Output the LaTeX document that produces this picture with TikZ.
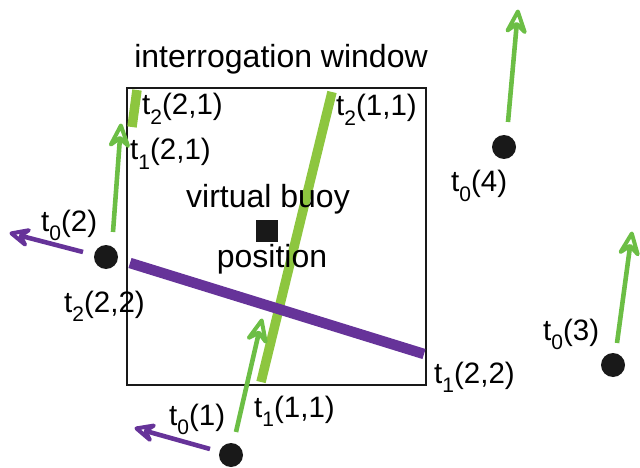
\documentclass[tikz,border=0pt]{standalone}
\usepackage{fontspec}
\setmainfont{Liberation Sans}
\usetikzlibrary{calc}
\definecolor{barg}{HTML}{8DC63F}
\definecolor{arrg}{HTML}{6CBE45}
\definecolor{purp}{HTML}{663399}
\newcommand{\tl}[2]{t\raisebox{-0.32em}{\fontsize{21}{21}\selectfont #1}#2}
% open stealth-like head: start, tip, colour, head length, inset, angle
\newcommand{\harrow}[6]{%
  \draw[#3,line width=4.6pt] (#1) -- ($(#2)!#5!(#1)$);
  \draw[#3,line width=4pt,line join=round,line cap=round]
    ($(#2)!1.5pt!(#1)$) -- ($(#2)!#4!-#6:(#1)$) -- ($(#2)!#5!(#1)$)
    -- ($(#2)!#4!#6:(#1)$) -- cycle;}
\tikzset{
  lbl/.style={anchor=base west,inner sep=0pt,font=\fontsize{29.5}{29.5}\selectfont},
  big/.style={inner sep=0pt,font=\fontsize{32}{32}\selectfont},
  dot/.style={circle,fill=black!90,inner sep=0pt,minimum size=24pt},
  gbar/.style={draw=barg,line width=9.5pt},
  pbar/.style={draw=purp,line width=10.5pt},
  win/.style={draw=black!90,line width=2.6pt}
}
\begin{document}
\begin{tikzpicture}[x=1pt,y=-1pt]
\useasboundingbox (0,0) rectangle (640,468);
% window
\draw[win] (127,88) rectangle (426,385);
\node[big,anchor=base] (title) at (281,68) {interrogation window};
% thick bars
\coordinate (g11a) at (261,382);
\coordinate (g11b) at (332,92);
\draw[gbar] (g11a) -- (g11b);
\coordinate (g21a) at (132,127);
\coordinate (g21b) at (137,90);
\draw[gbar] (g21a) -- (g21b);
\coordinate (p22a) at (130,263);
\coordinate (p22b) at (424,354);
\draw[pbar] (p22a) -- (p22b);
% virtual buoy
\node[fill=black!90,minimum size=22pt,inner sep=0pt] (vb) at (267,231) {};
\node[big,anchor=base] (vbt) at (268,207) {virtual buoy};
\node[big,anchor=base] (vbp) at (272,267) {position};
% dots
\node[dot] (d1) at (231,455) {};
\node[dot] (d2) at (106,257) {};
\node[dot] (d3) at (613,365) {};
\node[dot] (d4) at (504,147) {};
% arrow start/tip coordinates
\coordinate (a2s) at (113,232); \coordinate (a2t) at (121,124);
\coordinate (a1s) at (236,432); \coordinate (a1t) at (262,319);
\coordinate (a4s) at (508,122); \coordinate (a4t) at (518,10);
\coordinate (a3s) at (617,343); \coordinate (a3t) at (632,232);
\coordinate (p2s) at (83,252); \coordinate (p2t) at (10,233);
\coordinate (p1s) at (210,449); \coordinate (p1t) at (135,428);
\harrow{a2s}{a2t}{arrg}{23pt}{14pt}{22}
\harrow{a1s}{a1t}{arrg}{23pt}{14pt}{22}
\harrow{a4s}{a4t}{arrg}{23pt}{14pt}{22}
\harrow{a3s}{a3t}{arrg}{23pt}{14pt}{22}
\harrow{p2s}{p2t}{purp}{19pt}{11pt}{23}
\harrow{p1s}{p1t}{purp}{19pt}{11pt}{23}
% labels
\node[lbl] (l221) at (142,115) {\tl{2}{(2,1)}};
\node[lbl] (l121) at (130,160) {\tl{1}{(2,1)}};
\node[lbl] (l211) at (336,116) {\tl{2}{(1,1)}};
\node[lbl] (l02) at (41,231) {\tl{0}{(2)}};
\node[lbl] (l222) at (64,312) {\tl{2}{(2,2)}};
\node[lbl] (l04) at (451,192) {\tl{0}{(4)}};
\node[lbl] (l03) at (543,340) {\tl{0}{(3)}};
\node[lbl] (l122) at (434,383) {\tl{1}{(2,2)}};
\node[lbl] (l111) at (254,417) {\tl{1}{(1,1)}};
\node[lbl] (l01) at (169,425) {\tl{0}{(1)}};
\end{tikzpicture}
\end{document}
